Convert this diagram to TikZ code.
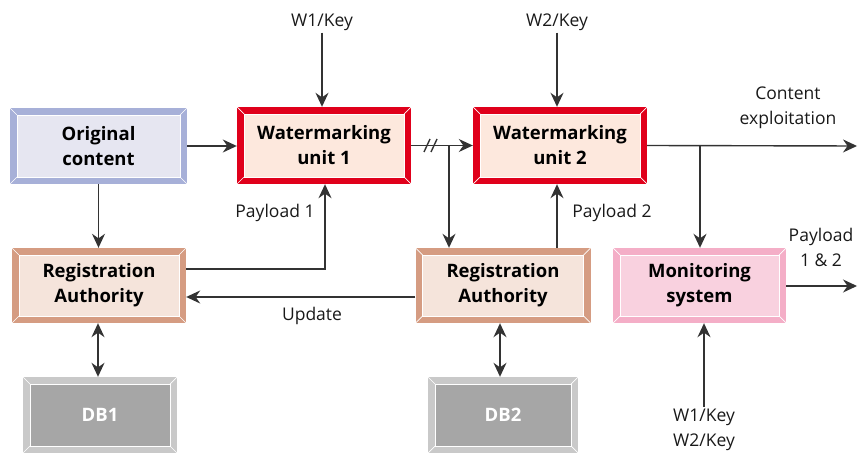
\documentclass[tikz,border=0pt]{standalone}
\usepackage{fontspec}
\setmainfont{Open Sans}
\usetikzlibrary{arrows.meta}

\definecolor{origedge}{HTML}{A7B0D8}
\definecolor{origfill}{HTML}{E6E6F1}
\definecolor{wmedge}{HTML}{E0001B}
\definecolor{wmfill}{HTML}{FDE8DD}
\definecolor{raedge}{HTML}{D59C82}
\definecolor{rafill}{HTML}{F5E4DB}
\definecolor{monedge}{HTML}{F4AEC7}
\definecolor{monfill}{HTML}{F9D1DF}
\definecolor{dbedge}{HTML}{C9C9C9}
\definecolor{dbfill}{HTML}{A6A6A6}
\definecolor{wire}{HTML}{333333}

\tikzset{
  bevelbox/.style 2 args={
    rectangle, draw=none, fill=#1, inner sep=0pt, align=center,
    font=\bfseries\fontsize{18.5}{25}\selectfont,
    path picture={
      \fill[#2, draw=white, line width=0.7pt]
        ([shift={(7pt,7pt)}]path picture bounding box.south west) rectangle
        ([shift={(-7pt,-7pt)}]path picture bounding box.north east);
      \draw[white, line width=0.7pt]
        (path picture bounding box.south west) -- ++(7pt,7pt)
        (path picture bounding box.north west) -- ++(7pt,-7pt)
        (path picture bounding box.north east) -- ++(-7pt,-7pt)
        (path picture bounding box.south east) -- ++(-7pt,7pt);
    }},
  lbl/.style={font=\fontsize{17.5}{25}\selectfont, text=black!90, inner sep=2pt, align=center},
  arr/.style={draw=wire, line width=1.4pt, -{Stealth[length=14pt,width=13pt]}},
  dblarr/.style={draw=wire, line width=1.4pt, {Stealth[length=14pt,width=13pt]}-{Stealth[length=14pt,width=13pt]}},
  wireline/.style={draw=wire, line width=1.4pt},
}

\begin{document}
\begin{tikzpicture}[x=1pt, y=-1pt]
\useasboundingbox (0,0) rectangle (858,454);

% processing blocks
\node[bevelbox={origedge}{origfill}, minimum width=177pt, minimum height=76pt] (orig) at (98.5,146) {Original\\content};
\node[bevelbox={wmedge}{wmfill}, minimum width=174pt, minimum height=77pt] (wm1) at (324,145.5) {Watermarking\\unit 1};
\node[bevelbox={wmedge}{wmfill}, minimum width=174pt, minimum height=77pt] (wm2) at (560,145.5) {Watermarking\\unit 2};
\node[bevelbox={raedge}{rafill}, minimum width=174pt, minimum height=75pt] (ra1) at (99,285.5) {Registration\\Authority};
\node[bevelbox={raedge}{rafill}, minimum width=175pt, minimum height=75pt] (ra2) at (503,285.5) {Registration\\Authority};
\node[bevelbox={monedge}{monfill}, minimum width=173pt, minimum height=75pt] (mon) at (699.5,285.5) {Monitoring\\system};
\node[bevelbox={dbedge}{dbfill}, minimum width=154pt, minimum height=76pt, text=white] (db1) at (100,415) {DB1};
\node[bevelbox={dbedge}{dbfill}, minimum width=150pt, minimum height=76pt, text=white] (db2) at (503,415) {DB2};

% key inputs
\node[lbl] (k1) at (322,22) {W1/Key};
\node[lbl] (k2) at (557,22) {W2/Key};
\node[lbl, align=center] (kmon) at (704,430) {W1/Key\\W2/Key};

% labels
\node[lbl] (exploit) at (788,108) {Content\\exploitation};
\node[lbl] (p1) at (275,213) {Payload 1};
\node[lbl] (p2) at (612,213) {Payload 2};
\node[lbl] (upd) at (312,316) {Update};
\node[lbl] (p12) at (821,247) {Payload\\1 \& 2};

% free ends and junctions
\coordinate (outA) at (857,146);
\coordinate (outB) at (857,286);
\coordinate (j1) at (449,146);
\coordinate (j2) at (700,146);

% connectors
\draw[arr] (k1.south) -- (k1.south |- wm1.north);
\draw[arr] (k2.south) -- (k2.south |- wm2.north);
\draw[arr] (orig.east) -- (orig.east -| wm1.west);
\draw[arr] (wm1.east) -- (wm1.east -| wm2.west);
\draw[wireline] (424,152) -- (430,139) (431,152) -- (437,139);
\draw[arr] (j1) -- (j1 |- ra2.north);
\draw[arr] (wm2.east) -- (outA);
\draw[arr] (j2) -- (j2 |- mon.north);
\draw[arr] (orig.south) -- (orig.south |- ra1.north);
\draw[arr] (ra1.east |- 0,269) -- (325,269) -- (325,0 |- wm1.south);
\draw[arr] (557,0 |- ra2.north) -- (557,0 |- wm2.south);
\draw[arr] (ra2.west |- 0,297) -- (ra1.east |- 0,297);
\draw[dblarr] (98,0 |- ra1.south) -- (98,0 |- db1.north);
\draw[dblarr] (500,0 |- ra2.south) -- (500,0 |- db2.north);
\draw[arr] (mon.east |- outB) -- (outB);
\draw[arr] (kmon.north) -- (kmon.north |- mon.south);
\end{tikzpicture}
\end{document}
